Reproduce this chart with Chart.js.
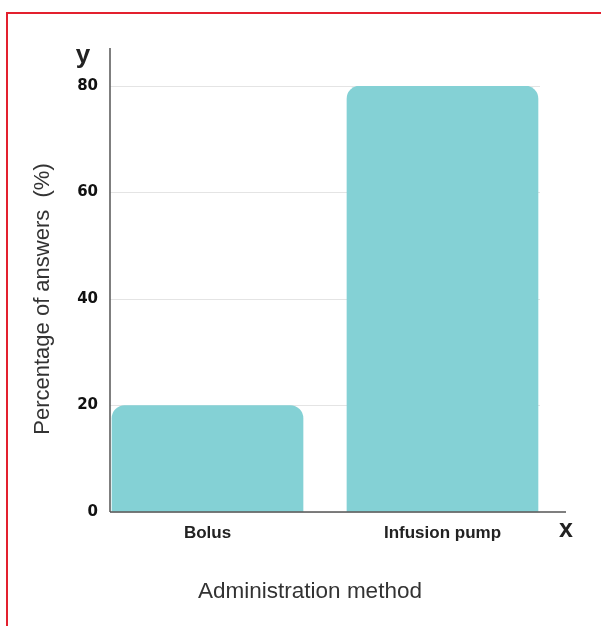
<!DOCTYPE html>
<html>
<head>
<meta charset="utf-8">
<script src="https://cdn.jsdelivr.net/npm/chart.js@4/dist/chart.umd.min.js"></script>
<style>
    html, body { margin: 0; padding: 0; background: #fff; overflow: hidden; }
    #wrap { position: relative; width: 601px; height: 626px; }
    #frame {
        position: absolute; left: 6px; top: 12px; width: 700px; height: 700px;
        border-left: 2px solid #e3202e; border-top: 2px solid #e3202e;
    }
    #chart { position: absolute; left: 0; top: 0; }
</style>
</head>
<body>
<div id="wrap">
    <div id="frame"></div>
    <canvas id="chart" width="601" height="626"></canvas>
</div>
<script>
// Data
const categories = ['Bolus', 'Infusion pump'];
const percentages = [20, 80];
const yTicks = [0, 20, 40, 60, 80];

const barColor = '#84d1d5';
const axisColor = '#555555';
const xTitle = 'Administration method';

// bars sit on a linear x scale so the gap between them can be narrower than the outer margins
const points = categories.map((c, i) => ({ x: i, y: percentages[i] }));

// Axis lines that run past the plot area, the "x" / "y" markers and the x title
const axisPlugin = {
    id: 'axisLines',
    afterDraw(chart) {
        const ctx = chart.ctx;
        const area = chart.chartArea;
        ctx.save();
        ctx.strokeStyle = axisColor;
        ctx.lineWidth = 1.5;
        ctx.beginPath();
        ctx.moveTo(area.left, area.bottom);
        ctx.lineTo(area.left, area.top - 38);
        ctx.moveTo(area.left, area.bottom);
        ctx.lineTo(area.right + 26, area.bottom);
        ctx.stroke();

        ctx.fillStyle = '#222';
        ctx.font = 'bold 26px "Liberation Sans", Arial, sans-serif';
        ctx.textAlign = 'center';
        ctx.textBaseline = 'alphabetic';
        ctx.fillText('y', area.left - 27, area.top - 23);
        ctx.font = 'bold 25px "Liberation Sans", Arial, sans-serif';
        ctx.fillText('x', area.right + 26, area.bottom + 25);

        ctx.fillStyle = '#333';
        ctx.font = '22.5px "Liberation Sans", Arial, sans-serif';
        ctx.textBaseline = 'middle';
        ctx.fillText(xTitle, area.left + 200, area.bottom + 80);
        ctx.restore();
    }
};

new Chart(document.getElementById('chart'), {
    type: 'bar',
    data: {
        datasets: [{
            data: points,
            backgroundColor: barColor,
            borderRadius: { topLeft: 13, topRight: 13, bottomLeft: 0, bottomRight: 0 },
            borderSkipped: false,
            barThickness: 191
        }]
    },
    options: {
        responsive: false,
        animation: false,
        layout: {
            padding: { top: 86, right: 61, bottom: 0, left: 0 }
        },
        plugins: {
            legend: { display: false },
            tooltip: { enabled: false }
        },
        scales: {
            x: {
                type: 'linear',
                offset: false,
                min: -0.415,
                max: 1.415,
                afterFit: (scale) => { scale.height = 114; },
                afterBuildTicks: (scale) => {
                    scale.ticks = categories.map((c, i) => ({ value: i }));
                },
                grid: { display: false, drawTicks: false },
                border: { display: false },
                ticks: {
                    padding: 11,
                    color: '#222',
                    callback: (v) => categories[v],
                    font: { family: '"Liberation Sans", Arial, sans-serif', size: 17, weight: 'bold' }
                }
            },
            y: {
                min: 0,
                max: 80,
                afterFit: (scale) => { scale.width = 110; },
                afterBuildTicks: (scale) => {
                    scale.ticks = yTicks.map(v => ({ value: v }));
                },
                grid: { color: '#e4e4e4', lineWidth: 1, drawTicks: false },
                border: { display: false },
                ticks: {
                    padding: 12,
                    color: '#111',
                    font: { family: '"DejaVu Sans", sans-serif', size: 15, weight: 'bold' }
                },
                title: {
                    display: true,
                    text: 'Percentage of answers  (%)',
                    color: '#333',
                    padding: { top: 30, bottom: 0 },
                    font: { family: '"Liberation Sans", Arial, sans-serif', size: 22 }
                }
            }
        }
    },
    plugins: [axisPlugin]
});
</script>
</body>
</html>
